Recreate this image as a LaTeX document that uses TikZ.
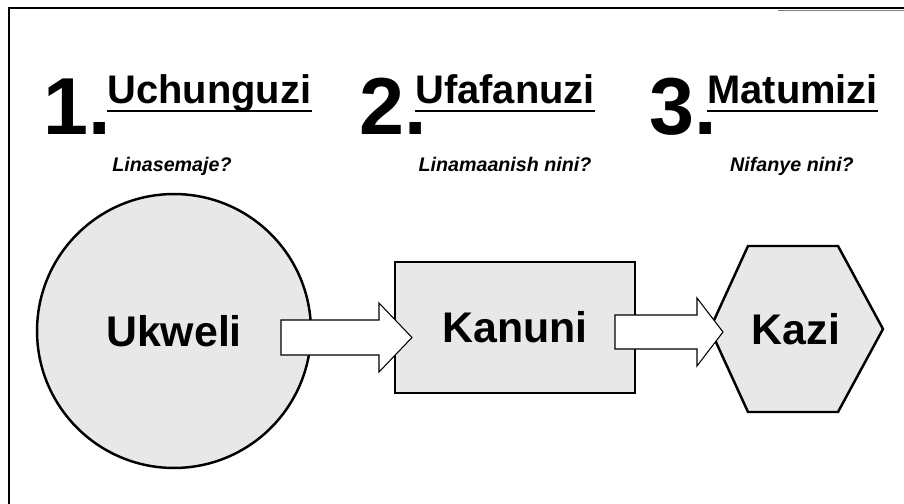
\documentclass[tikz,border=0pt]{standalone}
\usepackage{fontspec}
\setmainfont{Liberation Sans}
\usepackage{tikz}
\usetikzlibrary{calc,shapes,positioning}
\definecolor{boxgray}{HTML}{E8E8E8}
\tikzstyle{shapebox}=[draw=black,line width=1.4pt,fill=boxgray]
\tikzstyle{shapetext}=[font=\fontsize{24.4}{28}\selectfont\bfseries,inner sep=0pt]
\tikzstyle{numlabel}=[font=\fontsize{46}{50}\selectfont\bfseries,inner sep=0pt,anchor=base west]
\tikzstyle{headlabel}=[font=\fontsize{22.7}{26}\selectfont\bfseries,inner sep=0pt,anchor=base west]
\tikzstyle{asklabel}=[font=\fontsize{11.2}{13}\selectfont\bfseries\itshape,inner sep=0pt,anchor=base]
\tikzstyle{uline}=[line width=1.7pt]
\tikzstyle{blockarrow}=[draw=black,fill=white,line width=0.6pt,line join=miter]

% start, tip, half shaft, half head, head length
\newcommand{\blockarrow}[5]{%
  \draw[blockarrow] ($(#1)+(0,-#3)$) -- ($(#2)+(-#5,-#3)$) -- ($(#2)+(-#5,-#4)$)
    -- (#2) -- ($(#2)+(-#5,#4)$) -- ($(#2)+(-#5,#3)$) -- ($(#1)+(0,#3)$) -- cycle;}

\begin{document}
\begin{tikzpicture}[x=0.02cm,y=-0.02cm]
      \useasboundingbox (0,0) rectangle (904,504);
      % frame
      \draw[line width=1.1pt] (9,504) -- (9,8) -- (904,8);
      \draw[gray,line width=0.6pt] (778,10.5) -- (904,10.5);

      % First step:
      \node (num1) [numlabel] at (43,134) {1.};
      \node (head1) [headlabel] at (107,103) {Uchunguzi};
      \draw[uline] ($(head1.base west)+(0,8)$) -- ($(head1.base east)+(0,8)$);
      \node (ask1) [asklabel] at (172,171) {Linasemaje?};
      % Second step:
      \node (num2) [numlabel] at (359,134) {2.};
      \node (head2) [headlabel] at (415,103) {Ufafanuzi};
      \draw[uline] ($(head2.base west)+(0,8)$) -- ($(head2.base east)+(0,8)$);
      \node (ask2) [asklabel] at (505,171) {Linamaanish nini?};
      % Third step:
      \node (num3) [numlabel] at (649,134) {3.};
      \node (head3) [headlabel] at (707,103) {Matumizi};
      \draw[uline] ($(head3.base west)+(0,8)$) -- ($(head3.base east)+(0,8)$);
      \node (ask3) [asklabel] at (792,171) {Nifanye nini?};

      % shapes
      \node (ukweli) [shapebox,shapetext,circle,minimum size=5.48cm] at (174,331) {Ukweli};
      \node (kanuni) [shapebox,shapetext,rectangle,minimum width=4.8cm,minimum height=2.62cm] at (515,327.5) {Kanuni};
      \coordinate (kazipos) at (796,329);
      \draw[shapebox] (kazipos) ++(-86,0) -- ++(38,-83) -- ++(90,0) -- ++(45,83)
        -- ++(-45,83) -- ++(-90,0) -- cycle;
      \node (kazi) [shapetext] at (kazipos) {Kazi};

      % block arrows
      \coordinate (ar1s) at (281,337.5);
      \coordinate (ar1t) at (412,337.5);
      \blockarrow{ar1s}{ar1t}{17.5}{34.5}{33}
      \coordinate (ar2s) at (615,332);
      \coordinate (ar2t) at (723,332);
      \blockarrow{ar2s}{ar2t}{17}{34}{26}
\end{tikzpicture}
\end{document}
